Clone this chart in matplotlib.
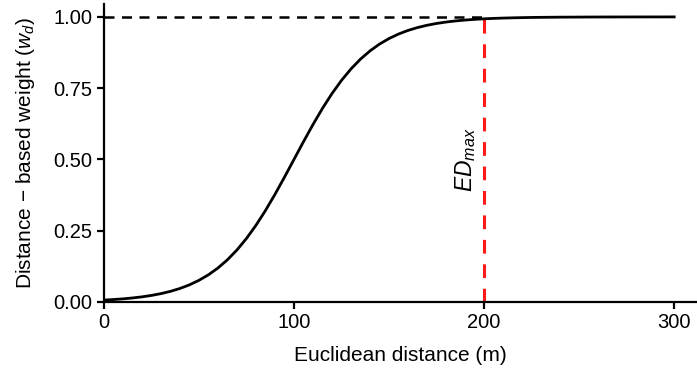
import matplotlib
matplotlib.use("Agg")
import matplotlib.pyplot as plt

# ── Data ────────────────────────────────────────
distance = [0, 5, 10, 15, 20, 25, 30, 35, 40, 45, 50, 55, 60, 65, 70, 75,
            80, 85, 90, 95, 100, 105, 110, 115, 120, 125, 130, 135, 140, 145,
            150, 155, 160, 165, 170, 175, 180, 185, 190, 195, 200, 205, 210,
            215, 220, 225, 230, 240, 250, 260, 280, 300]
weight = [0.0067, 0.0086, 0.0110, 0.0141, 0.0180, 0.0230, 0.0293, 0.0373,
          0.0474, 0.0601, 0.0759, 0.0953, 0.1192, 0.1480, 0.1824, 0.2227,
          0.2689, 0.3208, 0.3775, 0.4378, 0.5000, 0.5622, 0.6225, 0.6792,
          0.7311, 0.7773, 0.8176, 0.8520, 0.8808, 0.9047, 0.9241, 0.9399,
          0.9526, 0.9627, 0.9707, 0.9770, 0.9820, 0.9859, 0.9890, 0.9914,
          0.9933, 0.9948, 0.9959, 0.9968, 0.9975, 0.9981, 0.9985, 0.9991,
          0.9994, 0.9997, 0.9999, 1.0000]
ed_max = 200
x_ticks = [0, 100, 200, 300]
y_ticks = [0.00, 0.25, 0.50, 0.75, 1.00]

plt.rcParams["font.family"] = ["Liberation Sans", "DejaVu Sans"]
plt.rcParams["mathtext.fontset"] = "custom"
plt.rcParams["mathtext.rm"] = "Liberation Sans"
plt.rcParams["mathtext.it"] = "Liberation Sans:italic"

fig = plt.figure(figsize=(6.97, 3.71), dpi=100)
ax = fig.add_axes([0.149, 0.186, 0.851, 0.803])

# logistic-shaped weight curve
ax.plot(distance, weight, color="black", lw=2.0, zorder=3)
# reference line at w = 1 up to ED_max
ax.plot([0, ed_max], [1, 1], color="black", lw=1.8, ls=(0, (4, 3)), zorder=2)
# ED_max marker
w_at_max = weight[distance.index(ed_max)]
ax.plot([ed_max, ed_max], [0, w_at_max], color="#ff1a1a", lw=2.2,
        ls=(0, (4.5, 3.5)), zorder=2)
ax.text(190.5, 0.50, r"$ED_{max}$", rotation=90, ha="center", va="center",
        fontsize=16.5)

ax.set_xlim(0, 312)
ax.set_ylim(0, 1.045)
ax.set_xticks(x_ticks)
ax.set_yticks(y_ticks)
ax.set_yticklabels([f"{v:.2f}" for v in y_ticks])
ax.tick_params(labelsize=14.5, width=1.6, length=5, color="black", pad=3)

for side in ["top", "right"]:
    ax.spines[side].set_visible(False)
for side in ["left", "bottom"]:
    ax.spines[side].set_linewidth(1.6)

ax.set_xlabel("Euclidean distance (m)", fontsize=15, labelpad=10)
ax.set_ylabel(r"Distance $-$ based weight ($w_d$)", fontsize=15, labelpad=12)

fig.savefig("out.png", dpi=100)
